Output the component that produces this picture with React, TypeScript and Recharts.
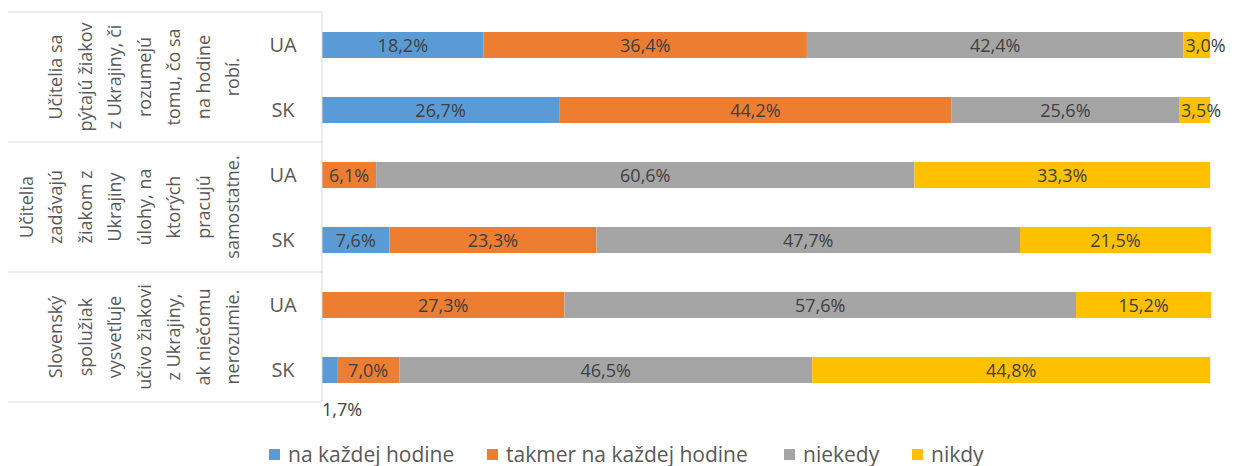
import React from "react";
import { Bar, BarChart, LabelList, XAxis, YAxis } from "recharts";

const groups = [
  ["Učitelia sa", "pýtajú žiakov", "z Ukrajiny, či", "rozumejú", "tomu, čo sa", "na hodine", "robí."],
  ["Učitelia", "zadávajú", "žiakom z", "Ukrajiny", "úlohy, na", "ktorých", "pracujú", "samostatne."],
  ["Slovenský", "spolužiak", "vysvetľuje", "učivo žiakovi", "z  Ukrajiny,", "ak niečomu", "nerozumie."],
];
const countries = ["UA", "SK"];

const seriesNames = ["na každej hodine", "takmer na každej hodine", "niekedy", "nikdy"];
const seriesColors = ["#5B9BD5", "#ED7D31", "#A5A5A5", "#FFC000"];

// one row per group x country, in order UA, SK
const kazdej = [18.2, 26.7, 0, 7.6, 0, 1.7];
const takmer = [36.4, 44.2, 6.1, 23.3, 27.3, 7.0];
const niekedy = [42.4, 25.6, 60.6, 47.7, 57.6, 46.5];
const nikdy = [3.0, 3.5, 33.3, 21.5, 15.2, 44.8];

const keys = ["s0", "s1", "s2", "s3"];

const data = kazdej.map((_, i) => ({
  id: `r${i}`,
  country: countries[i % 2],
  group: Math.floor(i / 2),
  s0: kazdej[i],
  s1: takmer[i],
  s2: niekedy[i],
  s3: nikdy[i],
}));

const FONT = "'Open Sans', sans-serif";
const AXIS_TEXT = "#595959";
const LABEL_TEXT = "#404040";
const GRID = "#D9D9D9";
const FS = 18;

const fmt = (v: number) => `${v.toFixed(1).replace(".", ",")}%`;

const CategoryTick = (props: any) => {
  const { y, payload, index } = props;
  const row = data[index];
  const items: React.ReactNode[] = [];
  items.push(
    <text key="c" x={283} y={y} textAnchor="middle" dominantBaseline="central" fill={AXIS_TEXT} fontSize={20} fontFamily={FONT}>
      {row.country}
    </text>
  );
  if (index % 2 === 0) {
    const lines = groups[row.group];
    const cy = y + 32.5;
    const n = lines.length;
    lines.forEach((ln, i) => {
      const cx = 232 - (n - 1 - i) * 29.5 + 7;
      items.push(
        <text key={`g${i}`} x={cx} y={cy} textAnchor="middle" transform={`rotate(-90 ${cx} ${cy})`} fill={AXIS_TEXT} fontSize={FS} fontFamily={FONT}>
          {ln}
        </text>
      );
    });
    if (index === 0) items.push(<line key="t" x1={8} x2={322} y1={y - 32.5} y2={y - 32.5} stroke={GRID} />);
  } else {
    items.push(<line key="b" x1={8} x2={322} y1={y + 32.5} y2={y + 32.5} stroke={GRID} />);
  }
  return <g key={payload?.value}>{items}</g>;
};

const makeLabel = (si: number) => (props: any) => {
  const { x, y, width, height, value } = props;
  if (!value) return null;
  const text = fmt(value);
  const est = text.length * 10.3;
  if (si === 0 && value < 3) {
    return (
      <text x={x} y={y + height + 26} dominantBaseline="central" fill={LABEL_TEXT} fontSize={FS} fontFamily={FONT}>
        {text}
      </text>
    );
  }
  if (est > width) {
    return (
      <text x={x + 2} y={y + height / 2} dominantBaseline="central" fill={LABEL_TEXT} fontSize={FS} fontFamily={FONT}>
        {text}
      </text>
    );
  }
  return (
    <text x={x + width / 2} y={y + height / 2} textAnchor="middle" dominantBaseline="central" fill={LABEL_TEXT} fontSize={FS} fontFamily={FONT}>
      {text}
    </text>
  );
};

const legendX = [269, 487, 784, 912];

export default function App() {
  return (
    <div style={{ position: "absolute", left: 0, top: 0, width: 1234, height: 466, background: "#fff", fontFamily: FONT }}>
      <BarChart
        width={1234}
        height={466}
        data={data}
        layout="vertical"
        margin={{ top: 12, right: 23, bottom: 64, left: 0 }}
        barSize={26}
      >
        <XAxis type="number" domain={[0, 100]} hide />
        <YAxis
          type="category"
          dataKey="id"
          width={322}
          axisLine={{ stroke: GRID }}
          tickLine={false}
          tick={<CategoryTick />}
          interval={0}
        />
        {keys.map((k, si) => (
          <Bar key={k} dataKey={k} stackId="a" fill={seriesColors[si]} isAnimationActive={false}>
            <LabelList dataKey={k} content={makeLabel(si)} />
          </Bar>
        ))}
      </BarChart>
      {seriesNames.map((name, i) => (
        <div
          key={name}
          style={{ position: "absolute", left: legendX[i], top: 440, display: "flex", alignItems: "center", fontSize: 21, lineHeight: "29px", color: AXIS_TEXT, whiteSpace: "nowrap" }}
        >
          <span style={{ display: "inline-block", width: 11, height: 11, background: seriesColors[i], marginRight: 8 }} />
          {name}
        </div>
      ))}
    </div>
  );
}
